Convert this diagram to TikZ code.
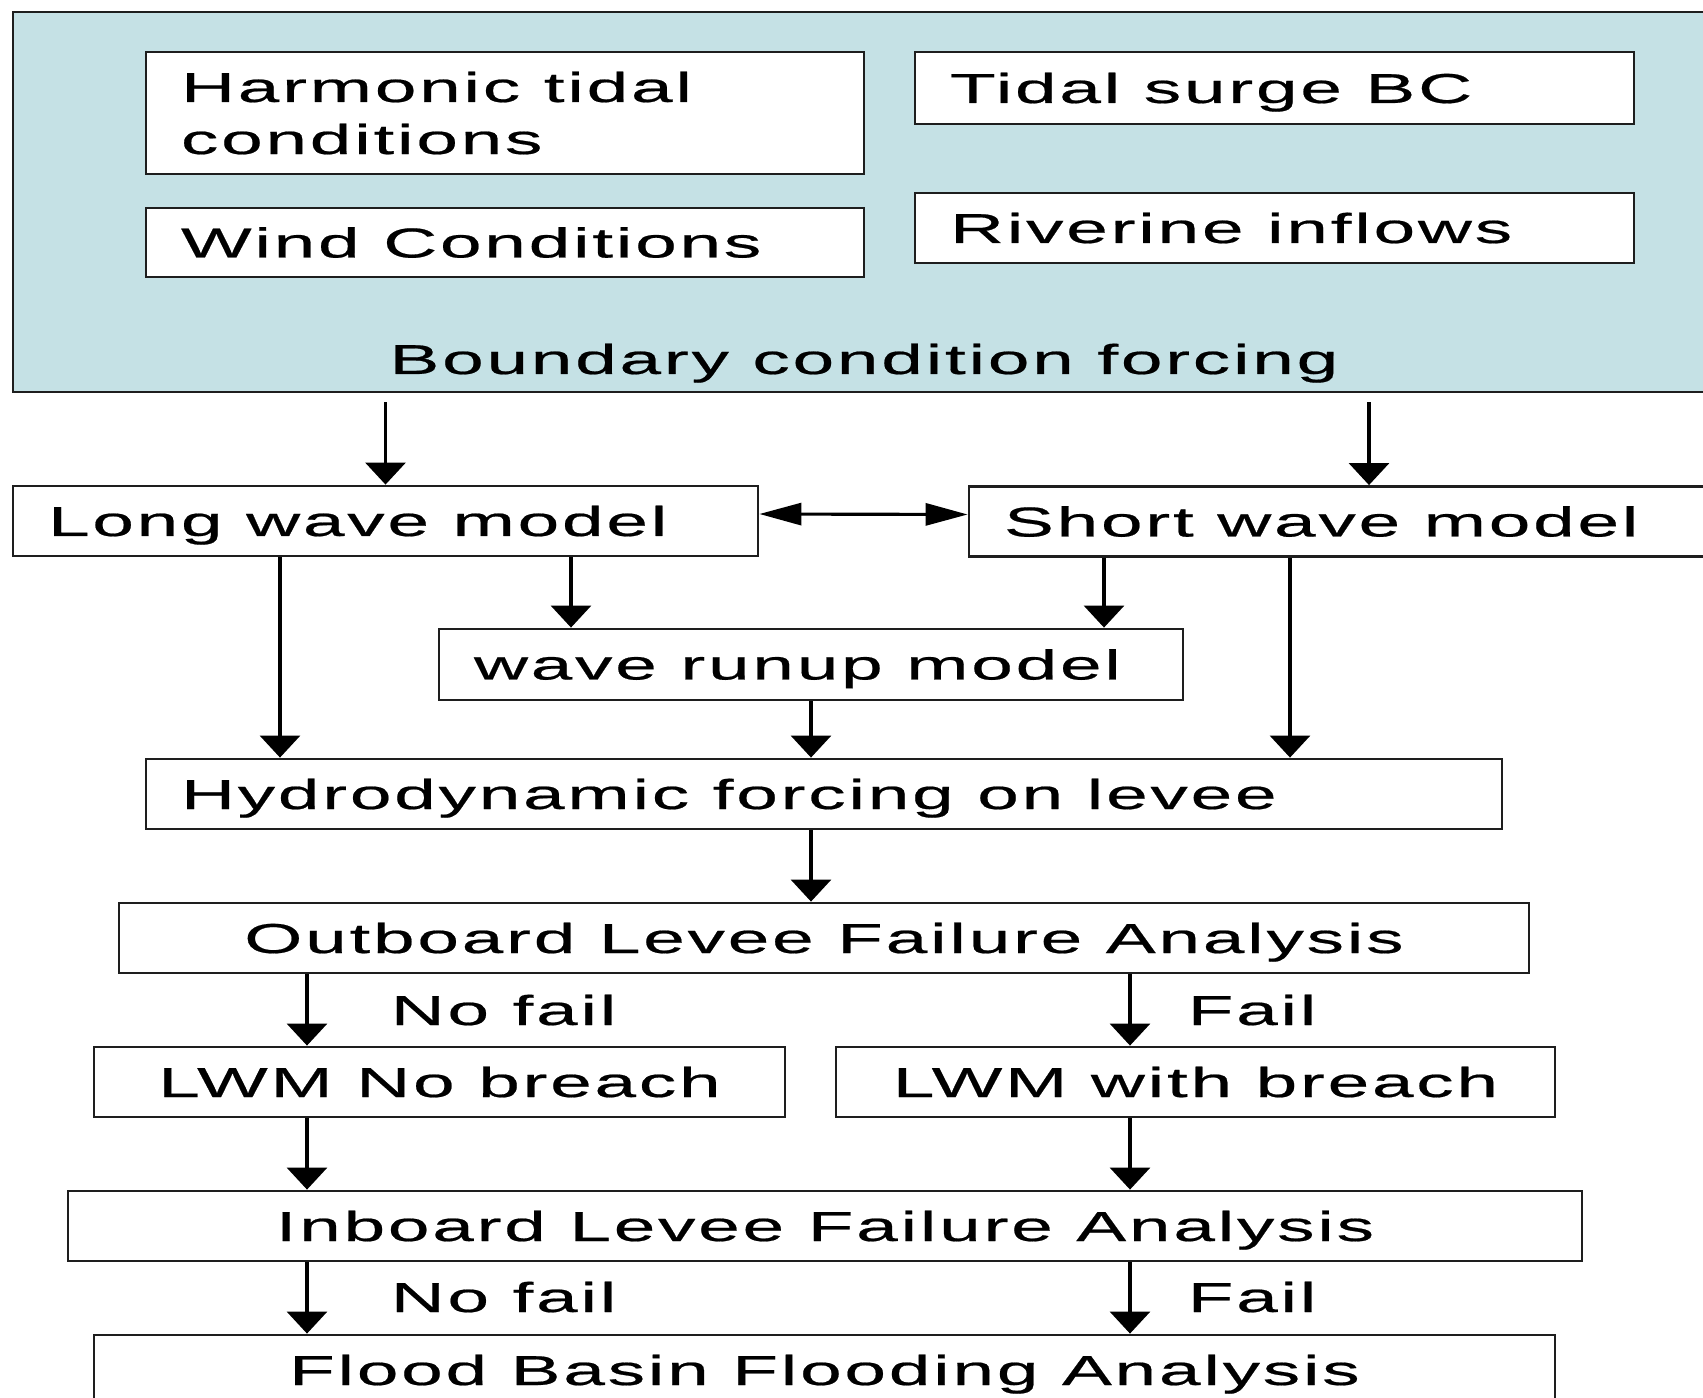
\documentclass[tikz,border=0pt]{standalone}
\usepackage{fontspec}
\setmainfont{Liberation Sans}[FakeStretch=1.79, LetterSpace=6.5, FakeBold=0.5, Ligatures=NoCommon]
\usepackage{tikz}
\usetikzlibrary{arrows.meta, positioning}
\usepackage{xcolor}
\definecolor{forcingblue}{RGB}{197, 225, 229}
\definecolor{frameline}{RGB}{30, 30, 30}
\newcommand{\diagsize}{\fontsize{11.9}{14.8}\selectfont}

\begin{document}
\begin{tikzpicture}[every node/.style={font=\diagsize},
  box/.style={draw=frameline, line width=0.8pt, fill=white, inner sep=0pt,
              text height=0.30cm, text depth=0pt},
  lbox/.style={box, align=justify, inner xsep=0.35cm},
  flow/.style={-{Triangle[length=0.22cm, width=0.40cm]}, line width=0.9pt},
  link/.style={{Triangle[length=0.42cm, width=0.22cm]}-{Triangle[length=0.42cm, width=0.22cm]},
               line width=0.9pt}]

\useasboundingbox (0,0) rectangle (17.03,-13.98);
\clip (0,0) rectangle (17.03,-13.98);

% Forcing block: shaded frame holding the four inputs
\node[draw=frameline, line width=0.8pt, fill=forcingblue, inner sep=0pt,
      minimum width=17.07cm, minimum height=3.80cm] (bcf) at (8.665,-2.02) {};

\node[lbox, text width=6.48cm, minimum height=1.22cm, text depth=0.52cm]
      (harmonic) at (5.05,-1.13) {Harmonic tidal\\conditions};
\node[lbox, text width=6.48cm, minimum height=0.69cm] (wind) at (5.05,-2.425) {Wind Conditions};
\node[lbox, text width=6.49cm, minimum height=0.72cm] (surge) at (12.745,-0.88) {Tidal surge BC};
\node[lbox, text width=6.49cm, minimum height=0.70cm] (river) at (12.745,-2.28) {Riverine inflows};

\node[inner sep=0pt, text height=0.30cm, text depth=0pt] (bcflabel) at (8.64,-3.59)
      {Boundary condition forcing};

% Wave models
\node[lbox, text width=6.75cm, minimum height=0.70cm] (lwm) at (3.855,-5.21) {Long wave model};
\node[lbox, text width=7.30cm, minimum height=0.70cm] (swm) at (13.69,-5.215) {Short wave model};
\node[lbox, text width=6.74cm, minimum height=0.71cm] (runup) at (8.11,-6.645) {wave runup model};
\node[lbox, text width=12.86cm, minimum height=0.70cm] (hydro) at (8.24,-7.94)
      {Hydrodynamic forcing on levee};

% Levee failure chain
\node[box, minimum width=14.10cm, minimum height=0.70cm] (outboard) at (8.24,-9.38)
      {Outboard Levee Failure Analysis};
\node[box, minimum width=6.91cm, minimum height=0.70cm] (lwmno) at (4.395,-10.82) {LWM No breach};
\node[box, minimum width=7.19cm, minimum height=0.70cm] (lwmbreach) at (11.955,-10.82) {LWM with breach};
\node[box, minimum width=15.14cm, minimum height=0.70cm] (inboard) at (8.25,-12.26)
      {Inboard Levee Failure Analysis};
\node[box, minimum width=14.61cm, minimum height=0.70cm] (flood) at (8.245,-13.70)
      {Flood Basin Flooding Analysis};

% branch labels
\node[anchor=base west, inner sep=0pt] (nofailA) at (3.90,-10.25) {No fail};
\node[anchor=base west, inner sep=0pt] (failA) at (11.87,-10.25) {Fail};
\node[anchor=base west, inner sep=0pt] (nofailB) at (3.90,-13.12) {No fail};
\node[anchor=base west, inner sep=0pt] (failB) at (11.87,-13.12) {Fail};

% columns the arrows run down
\coordinate (lwmleft) at (2.80,0);
\coordinate (lwmright) at (5.71,0);
\coordinate (swmleft) at (11.04,0);
\coordinate (swmright) at (12.90,0);
\coordinate (nofail) at (3.07,0);
\coordinate (fail) at (11.30,0);

% connectors
\draw[flow, shorten <=0.09cm] (bcf.south -| lwm) -- (lwm.north);
\draw[flow, shorten <=0.09cm] (bcf.south -| swm) -- (swm.north);
\draw[link] ([yshift=0.07cm]lwm.east) -- ([yshift=0.07cm]swm.west);

\draw[flow] (lwm.south -| lwmleft) -- (hydro.north -| lwmleft);
\draw[flow] (lwm.south -| lwmright) -- (runup.north -| lwmright);
\draw[flow] (swm.south -| swmleft) -- (runup.north -| swmleft);
\draw[flow] (swm.south -| swmright) -- (hydro.north -| swmright);
\draw[flow] (runup.south) -- (hydro.north -| runup);
\draw[flow] (hydro.south -| runup) -- (outboard.north -| runup);

\foreach \col/\dst in {nofail/lwmno, fail/lwmbreach} {
  \draw[flow] (outboard.south -| \col) -- (\dst.north -| \col);
  \draw[flow] (\dst.south -| \col) -- (inboard.north -| \col);
  \draw[flow] (inboard.south -| \col) -- (flood.north -| \col);
}

\end{tikzpicture}
\end{document}
